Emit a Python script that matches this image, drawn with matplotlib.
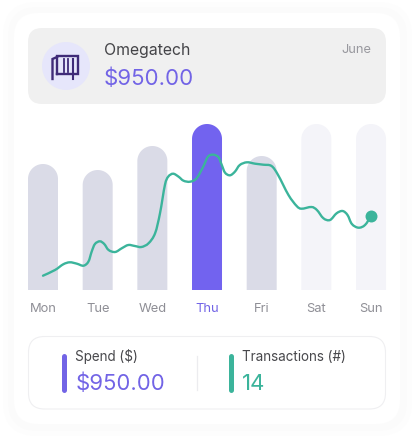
import numpy as np
import matplotlib
matplotlib.use('Agg')
import matplotlib.pyplot as plt
from matplotlib.patches import FancyBboxPatch, Circle, PathPatch
from matplotlib.path import Path

# data
days = ['Mon', 'Tue', 'Wed', 'Thu', 'Fri', 'Sat', 'Sun']
bar_values = [126, 120, 144, 166, 134, 166, 166]
selected_day = 'Thu'
future_days = ['Sat', 'Sun']

line_x = [0.00, 0.22, 0.37, 0.49, 0.62, 0.74, 0.83, 0.89, 0.95, 1.04, 1.12, 1.20, 1.32, 1.44, 1.56,
          1.68, 1.80, 1.93, 2.05, 2.14, 2.23, 2.29, 2.38, 2.48, 2.57, 2.69, 2.81, 2.93, 3.02, 3.12,
          3.21, 3.27, 3.33, 3.42, 3.51, 3.60, 3.73, 3.88, 4.03, 4.18, 4.30, 4.49, 4.64, 4.73, 4.91,
          5.01, 5.13, 5.25, 5.37, 5.48, 5.57, 5.65, 5.77, 5.89, 6.00]
line_y = [14.3, 20.0, 25.7, 27.7, 26.3, 24.3, 28.3, 38.3, 46.0, 48.7, 46.0, 40.0, 38.0, 41.7, 45.0,
          44.0, 43.0, 46.7, 56.7, 76.7, 105.0, 113.3, 116.3, 113.3, 109.3, 108.3, 111.7, 123.3, 133.5, 135.3,
          132.7, 125.0, 117.3, 114.7, 118.3, 125.0, 127.7, 126.3, 125.3, 124.0, 115.0, 95.0, 84.0, 81.3, 83.0,
          80.0, 71.7, 70.0, 76.7, 79.0, 75.0, 66.0, 62.3, 65.0, 74.0]

merchant = 'Omegatech'
month = 'June'
spend = '$950.00'
transactions = '14'

PURPLE = '#7264e6'
BAR_PURPLE = '#7263ef'
GREEN = '#3bb49b'
FONT = 'Inter'

W, H = 414, 438
fig = plt.figure(figsize=(W / 100, H / 100), dpi=100, facecolor='white')

# background layer in pixels
bg = fig.add_axes([0, 0, 1, 1])
bg.set_xlim(0, W)
bg.set_ylim(H, 0)
bg.axis('off')


def card(x0, y0, x1, y1, r, fc, ec='none', lw=0):
    bg.add_patch(FancyBboxPatch((x0 + r, y0 + r), x1 - x0 - 2 * r, y1 - y0 - 2 * r,
                                boxstyle='round,pad=%s,rounding_size=%s' % (r, r),
                                fc=fc, ec=ec, lw=lw))


# soft shadow round the white card
card(3, 2, 412, 436, 34, '#fdfdfd')
card(8, 7, 407, 431, 30, '#fbfbfb')
card(14, 13, 400, 424, 24, 'white')
card(28, 28, 386, 104, 14, '#f0f0f0')
card(28.5, 336.5, 385.5, 409, 16, 'white', '#efeff1', 0.8)
bg.add_patch(Circle((66, 66), 24, fc='#e6e6fb', ec='none'))

# icon
ICON = '#3f2b78'
bg.plot([52.5, 52.5, 57], [79, 59, 57], color=ICON, lw=1.7, solid_joinstyle='miter')
bg.plot([57, 57, 78, 78, 57], [74, 55.5, 55.5, 74, 74], color=ICON, lw=1.7, solid_joinstyle='miter')
bg.plot([73, 73], [59, 79], color=ICON, lw=1.5)
for ix in [64, 68.5]:
    bg.plot([ix, ix], [59, 72], color=ICON, lw=1.3)

bg.text(104, 50.5, merchant, fontsize=11.4, color='#444448', family=FONT, va='center', ha='left')
bg.text(371, 50, month, fontsize=9.2, color='#98989e', family=FONT, va='center', ha='right')
bg.text(104, 78.5, spend, fontsize=16, color=PURPLE, family=FONT, va='center', ha='left')

# stats below the chart
bg.plot([64.5, 64.5], [356, 390], color=PURPLE, lw=3.6, solid_capstyle='round')
bg.plot([231.5, 231.5], [356, 390], color=GREEN, lw=3.6, solid_capstyle='round')
bg.plot([197, 197], [356, 390], color='#ececef', lw=0.9)
bg.text(75, 357, 'Spend ($)', fontsize=9.7, color='#48484c', family=FONT, va='center', ha='left')
bg.text(75.5, 384, spend, fontsize=15.9, color=PURPLE, family=FONT, va='center', ha='left')
bg.text(242, 357, 'Transactions (#)', fontsize=9.7, color='#48484c', family=FONT, va='center', ha='left')
bg.text(242, 384, transactions, fontsize=16, color=GREEN, family=FONT, va='center', ha='left')

# chart: 1 unit on y = 1 px, 1 day = 54.67 px
left = (43 - 0.5 * 54.67) / W
width = 6 * 54.67 / W + 54.67 / W
ax = fig.add_axes([left, (H - 290) / H, width, 172 / H])
ax.patch.set_alpha(0)
ax.set_xlim(-0.5, 6.5)
ax.set_ylim(0, 172)
for s in ax.spines.values():
    s.set_visible(False)
ax.set_yticks([])
ax.set_xticks(range(len(days)))
ax.set_xticklabels(days, fontsize=9.3, family=FONT)
ax.tick_params(axis='x', length=0, pad=9.5)
for lab, d in zip(ax.get_xticklabels(), days):
    lab.set_color(PURPLE if d == selected_day else '#8f8f96')

half = 15 / 54.67
for i, (d, v) in enumerate(zip(days, bar_values)):
    col = BAR_PURPLE if d == selected_day else ('#f4f4f9' if d in future_days else '#dadbe7')
    t = np.linspace(np.pi, 0, 40)
    xs = np.r_[i - half, i + half * np.cos(t), i + half]
    ys = np.r_[0, v - 15 + 15 * np.sin(t), 0]
    ax.fill(xs, ys, color=col, lw=0)

# smooth curve through the read points (catmull-rom to bezier)
px = np.array(line_x)
py = np.array(line_y)
verts = [(px[0], py[0])]
codes = [Path.MOVETO]
for i in range(len(px) - 1):
    a = max(i - 1, 0)
    b = min(i + 2, len(px) - 1)
    verts.append((px[i] + (px[i + 1] - px[a]) / 6, py[i] + (py[i + 1] - py[a]) / 6))
    verts.append((px[i + 1] - (px[b] - px[i]) / 6, py[i + 1] - (py[b] - py[i]) / 6))
    verts.append((px[i + 1], py[i + 1]))
    codes += [Path.CURVE4] * 3
curve = Path(verts, codes)
ax.add_patch(PathPatch(curve, fc='none', ec=GREEN, lw=1.7, capstyle='round'))
ax.scatter([line_x[-1]], [line_y[-1]], s=74, color=GREEN, lw=0, zorder=5)

fig.savefig('out.png', dpi=100)
